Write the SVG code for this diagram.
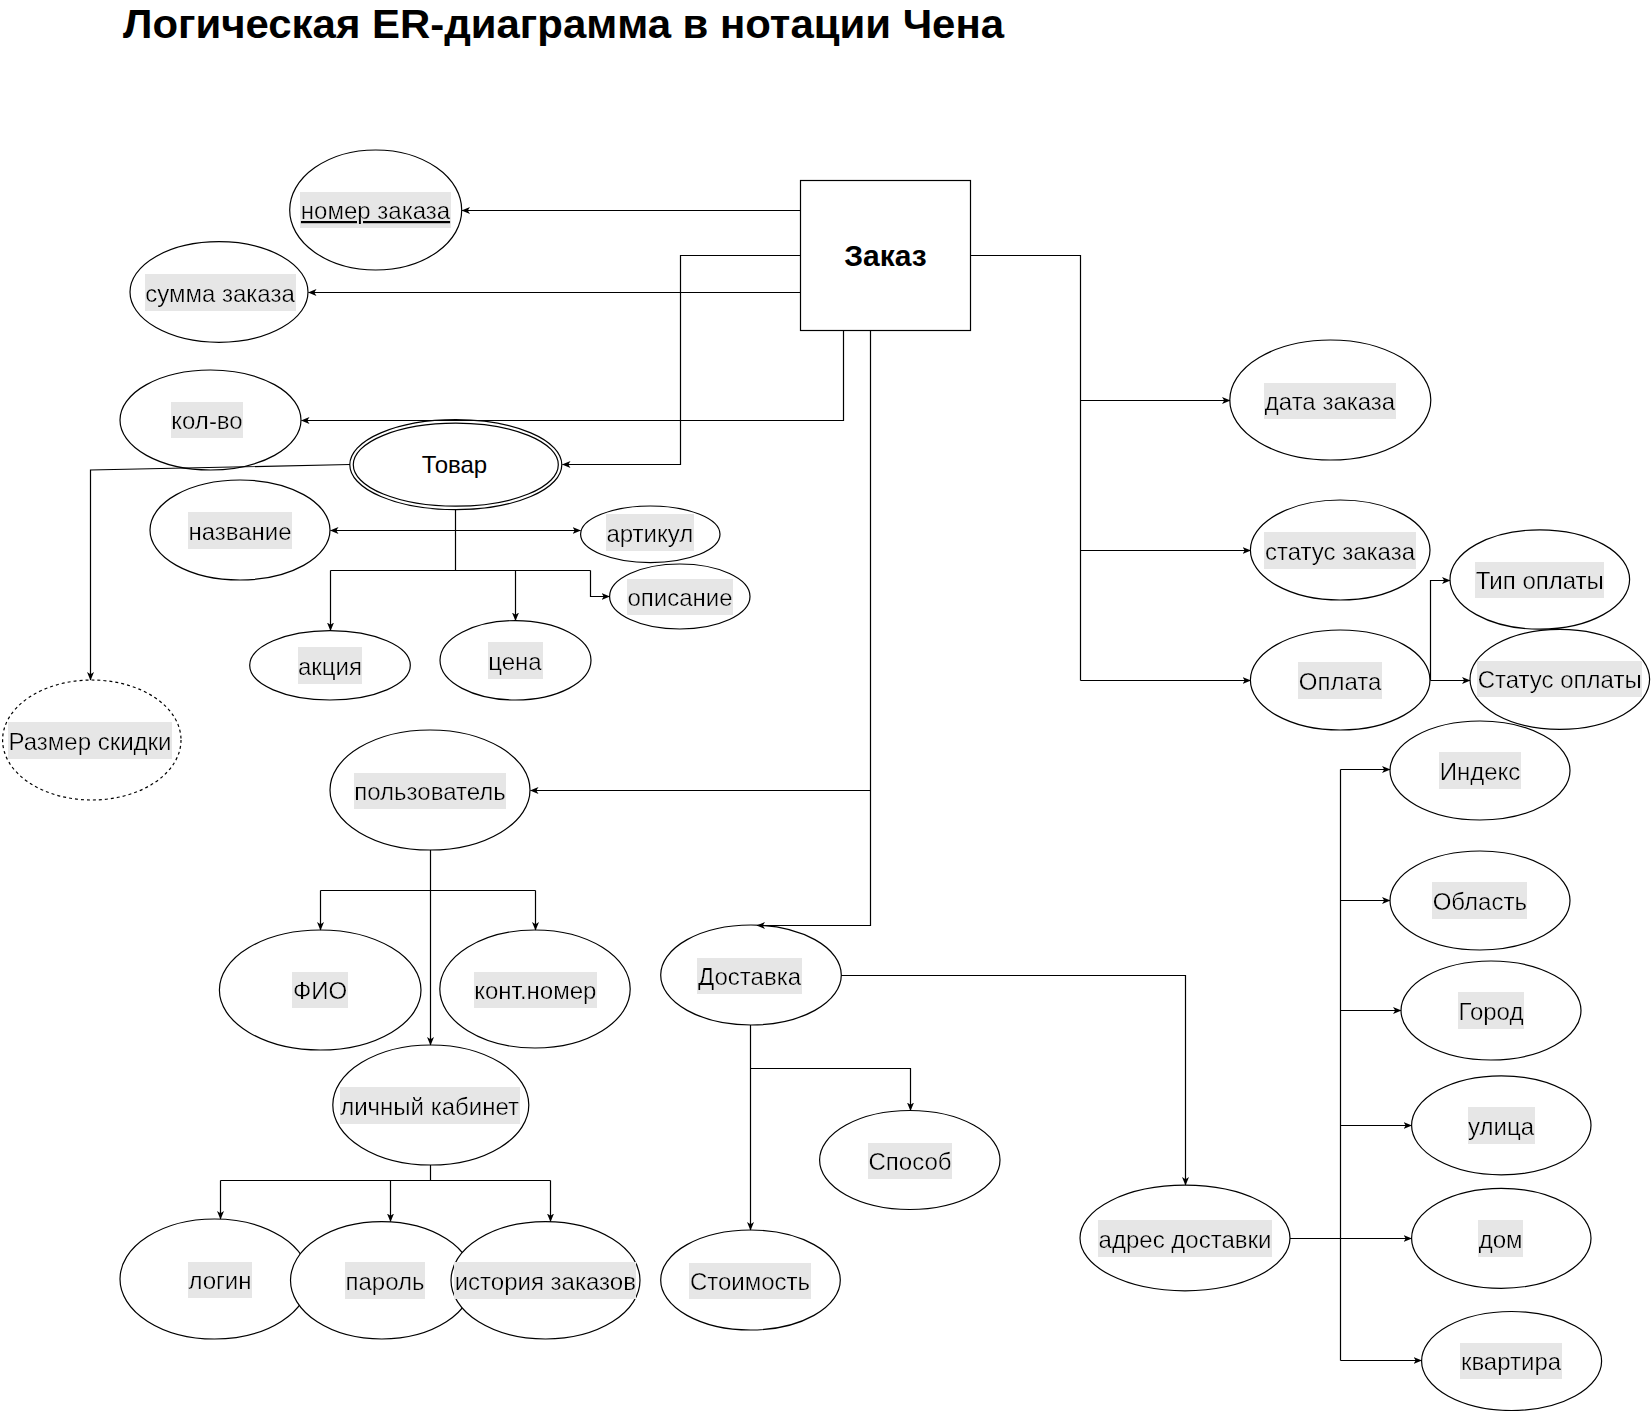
<svg xmlns="http://www.w3.org/2000/svg" width="1652" height="1411" viewBox="0 0 1652 1411">
<defs>
<style>
.n ellipse{fill:#fff;stroke:#000;stroke-width:1.2}
.n .dash{stroke-dasharray:3 3}
.t{font-family:"Liberation Sans",Arial,sans-serif;font-size:24px;fill:#000;text-anchor:middle}
.h{filter:url(#hl)}
.u{text-decoration:underline}
.b{font-weight:bold;font-size:30px}
.title{font-family:"Liberation Sans",Arial,sans-serif;font-size:41px;font-weight:bold;fill:#000}
.c path{fill:none;stroke:#000;stroke-width:1.2}
.c .a{marker-end:url(#ar)}
.c .aa{marker-end:url(#ar);marker-start:url(#ar)}
</style>
<filter id="hl" x="0" y="-0.183" width="1" height="1.328">
<feFlood flood-color="#e6e6e6"/>
<feComposite in="SourceGraphic" operator="over"/>
</filter>
<marker id="ar" markerUnits="userSpaceOnUse" markerWidth="9" markerHeight="8" refX="8" refY="4" orient="auto-start-reverse" viewBox="0 0 9 8">
<path d="M0,0.5 L8.5,4 L0,7.5 L2.2,4 z" fill="#000"/>
</marker>
</defs>
<rect width="1652" height="1411" fill="#fff"/>
<text class="title" x="123" y="38" textLength="881" lengthAdjust="spacingAndGlyphs">Логическая ER-диаграмма в нотации Чена</text>

<g class="n">
<g id="zakaz"><rect x="800.5" y="180.5" width="170" height="150" fill="#fff" stroke="#000" stroke-width="1.2"/><text class="t b" x="885.5" y="266">Заказ</text></g>
<g id="nomer"><ellipse cx="375.7" cy="210" rx="86" ry="60"/><text class="t h u" x="375.5" y="219">номер заказа</text></g>
<g id="summa"><ellipse cx="219" cy="292" rx="89" ry="50.3"/><text class="t h" x="220" y="301.5">сумма заказа</text></g>
<g id="kolvo"><ellipse cx="210.5" cy="420" rx="90.5" ry="50"/><text class="t h" x="207" y="429">кол-во</text></g>
<g id="tovar"><ellipse cx="455.8" cy="464.7" rx="106" ry="45"/><ellipse cx="455.8" cy="464.7" rx="102.5" ry="41.5"/><text class="t" x="454.5" y="473.3">Товар</text></g>
<g id="nazvanie"><ellipse cx="240" cy="530" rx="90" ry="50"/><text class="t h" x="240" y="539.5">название</text></g>
<g id="artikul"><ellipse cx="650.3" cy="534.3" rx="69.7" ry="28.3"/><text class="t h" x="649.8" y="541.5">артикул</text></g>
<g id="opisanie"><ellipse cx="679.8" cy="596.5" rx="70.2" ry="32.5"/><text class="t h" x="680" y="606">описание</text></g>
<g id="akciya"><ellipse cx="330" cy="665.3" rx="80.3" ry="34.7"/><text class="t h" x="330" y="674.5">акция</text></g>
<g id="cena"><ellipse cx="515.5" cy="660.3" rx="75.5" ry="39.7"/><text class="t h" x="515" y="669.5">цена</text></g>
<g id="skidka"><ellipse class="dash" cx="91.8" cy="740" rx="89.2" ry="60"/><text class="t h" x="90" y="749.5">Размер скидки</text></g>
<g id="polzovatel"><ellipse cx="430" cy="790" rx="100" ry="60"/><text class="t h" x="430" y="800">пользователь</text></g>
<g id="fio"><ellipse cx="320.2" cy="990" rx="100.8" ry="60"/><text class="t h" x="320" y="999">ФИО</text></g>
<g id="kontnomer"><ellipse cx="535" cy="989" rx="95.2" ry="59"/><text class="t h" x="535.3" y="999">конт.номер</text></g>
<g id="kabinet"><ellipse cx="430.8" cy="1105" rx="98" ry="60"/><text class="t h" x="429.6" y="1114.5">личный кабинет</text></g>
<g id="login"><ellipse cx="214.5" cy="1279" rx="94.5" ry="60"/><text class="t h" x="220" y="1289">логин</text></g>
<g id="parol"><ellipse cx="381.8" cy="1280.3" rx="91.3" ry="58.7"/><text class="t h" x="385" y="1289.5">пароль</text></g>
<g id="istoriya"><ellipse cx="545.5" cy="1280.3" rx="94.5" ry="58.7"/><text class="t h" x="545.3" y="1289.5">история заказов</text></g>
<g id="dostavka"><ellipse cx="751" cy="975" rx="90.3" ry="50"/><text class="t h" x="749.5" y="985">Доставка</text></g>
<g id="stoimost"><ellipse cx="750.5" cy="1280" rx="89.8" ry="50"/><text class="t h" x="750" y="1290">Стоимость</text></g>
<g id="sposob"><ellipse cx="909.8" cy="1160" rx="90.2" ry="49.5"/><text class="t h" x="910" y="1170">Способ</text></g>
<g id="adres"><ellipse cx="1185" cy="1238" rx="105" ry="52.8"/><text class="t h" x="1185" y="1247.5">адрес доставки</text></g>
<g id="indeks"><ellipse cx="1480" cy="770.5" rx="90" ry="49.5"/><text class="t h" x="1480" y="779.5">Индекс</text></g>
<g id="oblast"><ellipse cx="1480" cy="900.5" rx="90" ry="49.5"/><text class="t h" x="1479.8" y="909.5">Область</text></g>
<g id="gorod"><ellipse cx="1491" cy="1010.5" rx="90" ry="49.5"/><text class="t h" x="1491" y="1019.5">Город</text></g>
<g id="ulica"><ellipse cx="1501.3" cy="1125.3" rx="89.7" ry="49.5"/><text class="t h" x="1501" y="1134.5">улица</text></g>
<g id="dom"><ellipse cx="1501.3" cy="1238.3" rx="89.7" ry="50"/><text class="t h" x="1500.7" y="1247.5">дом</text></g>
<g id="kvartira"><ellipse cx="1511.6" cy="1361" rx="90" ry="49.5"/><text class="t h" x="1511" y="1370">квартира</text></g>
<g id="data"><ellipse cx="1330.3" cy="400" rx="100.5" ry="60"/><text class="t h" x="1330" y="410">дата заказа</text></g>
<g id="status"><ellipse cx="1340.2" cy="550" rx="89.8" ry="50"/><text class="t h" x="1340" y="559.5">статус заказа</text></g>
<g id="oplata"><ellipse cx="1340.2" cy="680" rx="89.8" ry="50"/><text class="t h" x="1340" y="689.5">Оплата</text></g>
<g id="tipoplaty"><ellipse cx="1539.8" cy="579.5" rx="89.8" ry="49.7"/><text class="t h" x="1539.8" y="589">Тип оплаты</text></g>
<g id="statusoplaty"><ellipse cx="1559.8" cy="679.3" rx="89.8" ry="50"/><text class="t h" x="1559.7" y="688">Статус оплаты</text></g>
</g>

<g class="c" id="connectors">
<path class="a" d="M800.5,210.5 H462"/>
<path class="a" d="M800.5,292.5 H308.5"/>
<path class="a" d="M800.5,255.5 H680.5 V464.5 H562.5"/>
<path class="a" d="M843.5,330.5 V420.5 H301.5"/>
<path class="a" d="M870.5,330.5 V925.5 H757"/>
<path class="a" d="M870.5,790.5 H530.5"/>
<path d="M970.5,255.5 H1080.5 V680.5"/>
<path class="a" d="M1080.5,400.5 H1230"/>
<path class="a" d="M1080.5,550.5 H1250.5"/>
<path class="a" d="M1080.5,680.5 H1250.5"/>
<path class="a" d="M1430.5,680.5 V580.5 H1450"/>
<path class="a" d="M1430.5,680.5 H1470"/>
<path d="M455.5,509.5 V570.5 M330.5,570.5 H590.5"/>
<path class="a" d="M330.5,570.5 V630.5"/>
<path class="a" d="M515.5,570.5 V620.5"/>
<path class="a" d="M590.5,570.5 V596.5 H609.5"/>
<path class="aa" d="M330.5,530.5 H580.5"/>
<path class="a" d="M350,464.5 L90.5,470 V680"/>
<path class="a" d="M430.5,850 V1045"/>
<path d="M320.5,890.5 H535.5"/>
<path class="a" d="M320.5,890.5 V930"/>
<path class="a" d="M535.5,890.5 V930"/>
<path d="M430.5,1165 V1180.5 M220.5,1180.5 H550.5"/>
<path class="a" d="M220.5,1180.5 V1219"/>
<path class="a" d="M390.5,1180.5 V1221.5"/>
<path class="a" d="M550.5,1180.5 V1221.5"/>
<path class="a" d="M750.5,1025 V1230"/>
<path class="a" d="M750.5,1068.5 H910.5 V1110.5"/>
<path class="a" d="M841.3,975.5 H1185.5 V1185"/>
<path class="a" d="M1290,1238.5 H1411.5"/>
<path d="M1340.5,769.5 V1360.5"/>
<path class="a" d="M1340.5,769.5 H1390"/>
<path class="a" d="M1340.5,900.5 H1390"/>
<path class="a" d="M1340.5,1010.5 H1401"/>
<path class="a" d="M1340.5,1125.5 H1411.5"/>
<path class="a" d="M1340.5,1360.5 H1421.5"/>
</g>
</svg>
